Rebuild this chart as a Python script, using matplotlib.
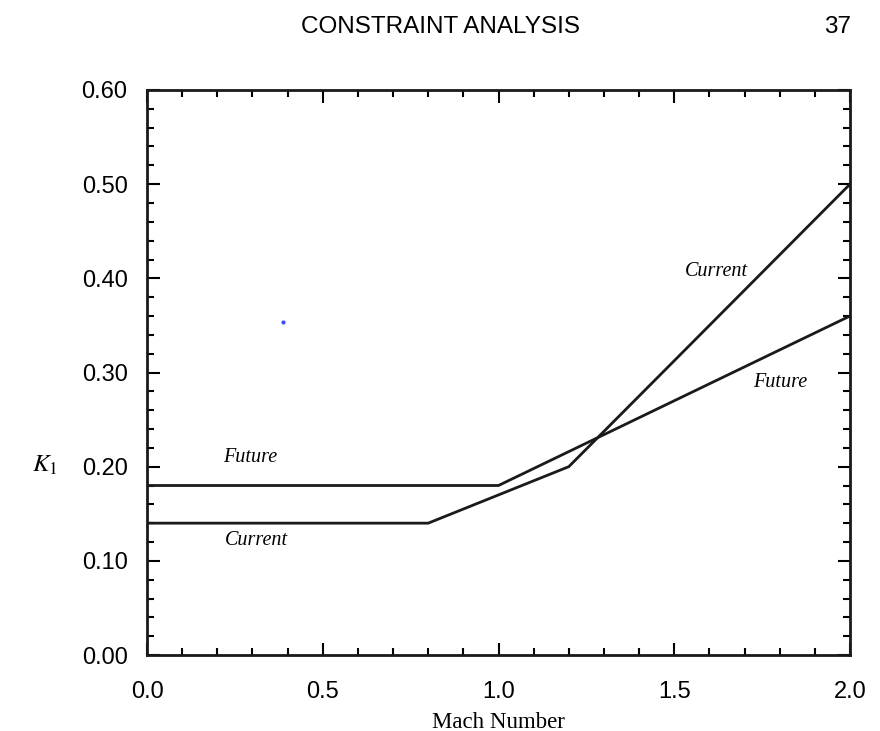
import matplotlib
matplotlib.use('Agg')
import matplotlib.pyplot as plt
from matplotlib.ticker import MultipleLocator

# data
current_mach = [0.0, 0.8, 1.2, 2.0]
current_k1 = [0.14, 0.14, 0.20, 0.50]
future_mach = [0.0, 1.0, 2.0]
future_k1 = [0.18, 0.18, 0.36]

x_ticks = [0.0, 0.5, 1.0, 1.5, 2.0]
y_ticks = [0.0, 0.1, 0.2, 0.3, 0.4, 0.5, 0.6]

sans = ['Liberation Sans', 'DejaVu Sans']
serif = ['Liberation Serif', 'DejaVu Serif']

fig = plt.figure(figsize=(8.8, 7.31), dpi=100)
ax = fig.add_axes([147 / 880, 1 - 655 / 731, 703 / 880, 565 / 731])

ax.plot(current_mach, current_k1, color='#1a1a1a', lw=2.0)
ax.plot(future_mach, future_k1, color='#1a1a1a', lw=2.0)
# stray blue speck in the scan
ax.plot([0.387], [0.354], 'o', color='#3a4cff', ms=3, mec='none')

lab = dict(family=serif, style='italic', fontsize=14.5, ha='center', va='center')
ax.text(1.62, 0.407, 'Current', **lab)
ax.text(1.80, 0.289, 'Future', **lab)
ax.text(0.293, 0.210, 'Future', **lab)
ax.text(0.31, 0.122, 'Current', **lab)

ax.set_xlim(0, 2.0)
ax.set_ylim(0, 0.6)
ax.set_xticks(x_ticks)
ax.set_yticks(y_ticks)
ax.set_xticklabels(['%.1f' % v for v in x_ticks], family=sans, fontsize=17)
ax.set_yticklabels(['%.2f' % v for v in y_ticks], family=sans, fontsize=17)
ax.xaxis.set_minor_locator(MultipleLocator(0.1))
ax.yaxis.set_minor_locator(MultipleLocator(0.02))
ax.tick_params(which='both', direction='in', top=True, right=True, width=1.5)
ax.tick_params(axis='x', which='major', length=9, pad=19)
ax.tick_params(axis='y', which='major', length=9, pad=14)
ax.tick_params(which='minor', length=5)
for s in ax.spines.values():
    s.set_linewidth(2.0)
    s.set_color('#1a1a1a')

ax.set_xlabel('Mach Number', family=serif, fontsize=16.5, labelpad=6)
fig.text(45 / 880, 1 - 465 / 731, '$K_1$', fontsize=18, ha='center', va='center',
         family=serif, math_fontfamily='stix')

fig.text(440 / 880, 1 - 27 / 731, 'CONSTRAINT ANALYSIS', family=sans, fontsize=17.5,
         ha='center', va='center')
fig.text(851 / 880, 1 - 27 / 731, '37', family=sans, fontsize=17.5, ha='right', va='center')

fig.savefig('out.png', dpi=100)
